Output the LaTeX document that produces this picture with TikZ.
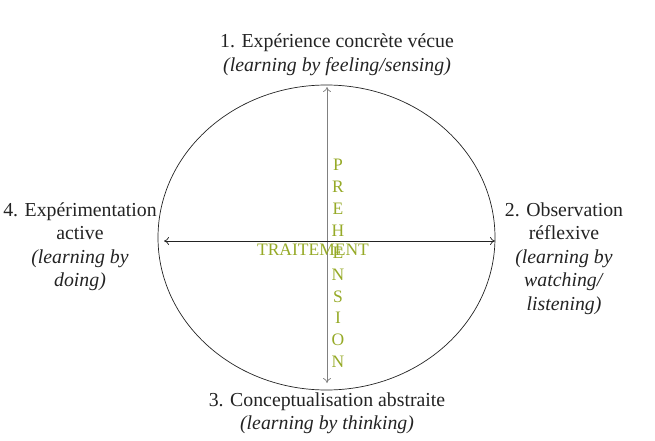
\documentclass[tikz,border=0pt]{standalone}
\usepackage{fontspec}
\setmainfont{Liberation Serif}
\usetikzlibrary{arrows.meta}

\definecolor{olive}{RGB}{150,170,40}
\definecolor{ink}{RGB}{35,35,35}

\tikzset{
  label/.style={text=ink, align=center, font=\fontsize{19.8}{23.5}\selectfont, inner sep=0pt},
  axis/.style={{To[length=5pt,width=8pt]}-{To[length=5pt,width=8pt]}, line width=0.7pt},
  olivetext/.style={text=olive, inner sep=0pt, font=\fontsize{17.5}{21.9}\selectfont, align=center}
}

\begin{document}
\begin{tikzpicture}[x=1pt,y=-1pt]
\useasboundingbox (0,0) rectangle (655,441);

\coordinate (c) at (326.5,237.5);
\draw[ink, line width=0.7pt] (c) ellipse [x radius=168.5pt, y radius=152.5pt];

\coordinate (top) at (327,87);
\coordinate (bottom) at (327,383);
\coordinate (left) at (164,241);
\coordinate (right) at (495,241);

\draw[axis, black!50] (bottom) -- (top);
\draw[axis, ink] (left) -- (right);

\node[olivetext] (prehension) at (338,263.5) {P\\R\\E\\H\\E\\N\\S\\I\\O\\N};
\node[olivetext] (traitement) at (313,250) {TRAITEMENT};

\node[label] (experience) at (337,55) {1. Expérience concrète vécue\\\textit{(learning by feeling/sensing)}};
\node[label] (observation) at (564,258.5) {2. Observation\\réflexive\\\textit{(learning by}\\\textit{watching/}\\\textit{listening)}};
\node[label] (conceptualisation) at (327,413.5) {3. Conceptualisation abstraite\\\textit{(learning by thinking)}};
\node[label] (experimentation) at (80,246.5) {4. Expérimentation\\active\\\textit{(learning by}\\\textit{doing)}};
\end{tikzpicture}
\end{document}
